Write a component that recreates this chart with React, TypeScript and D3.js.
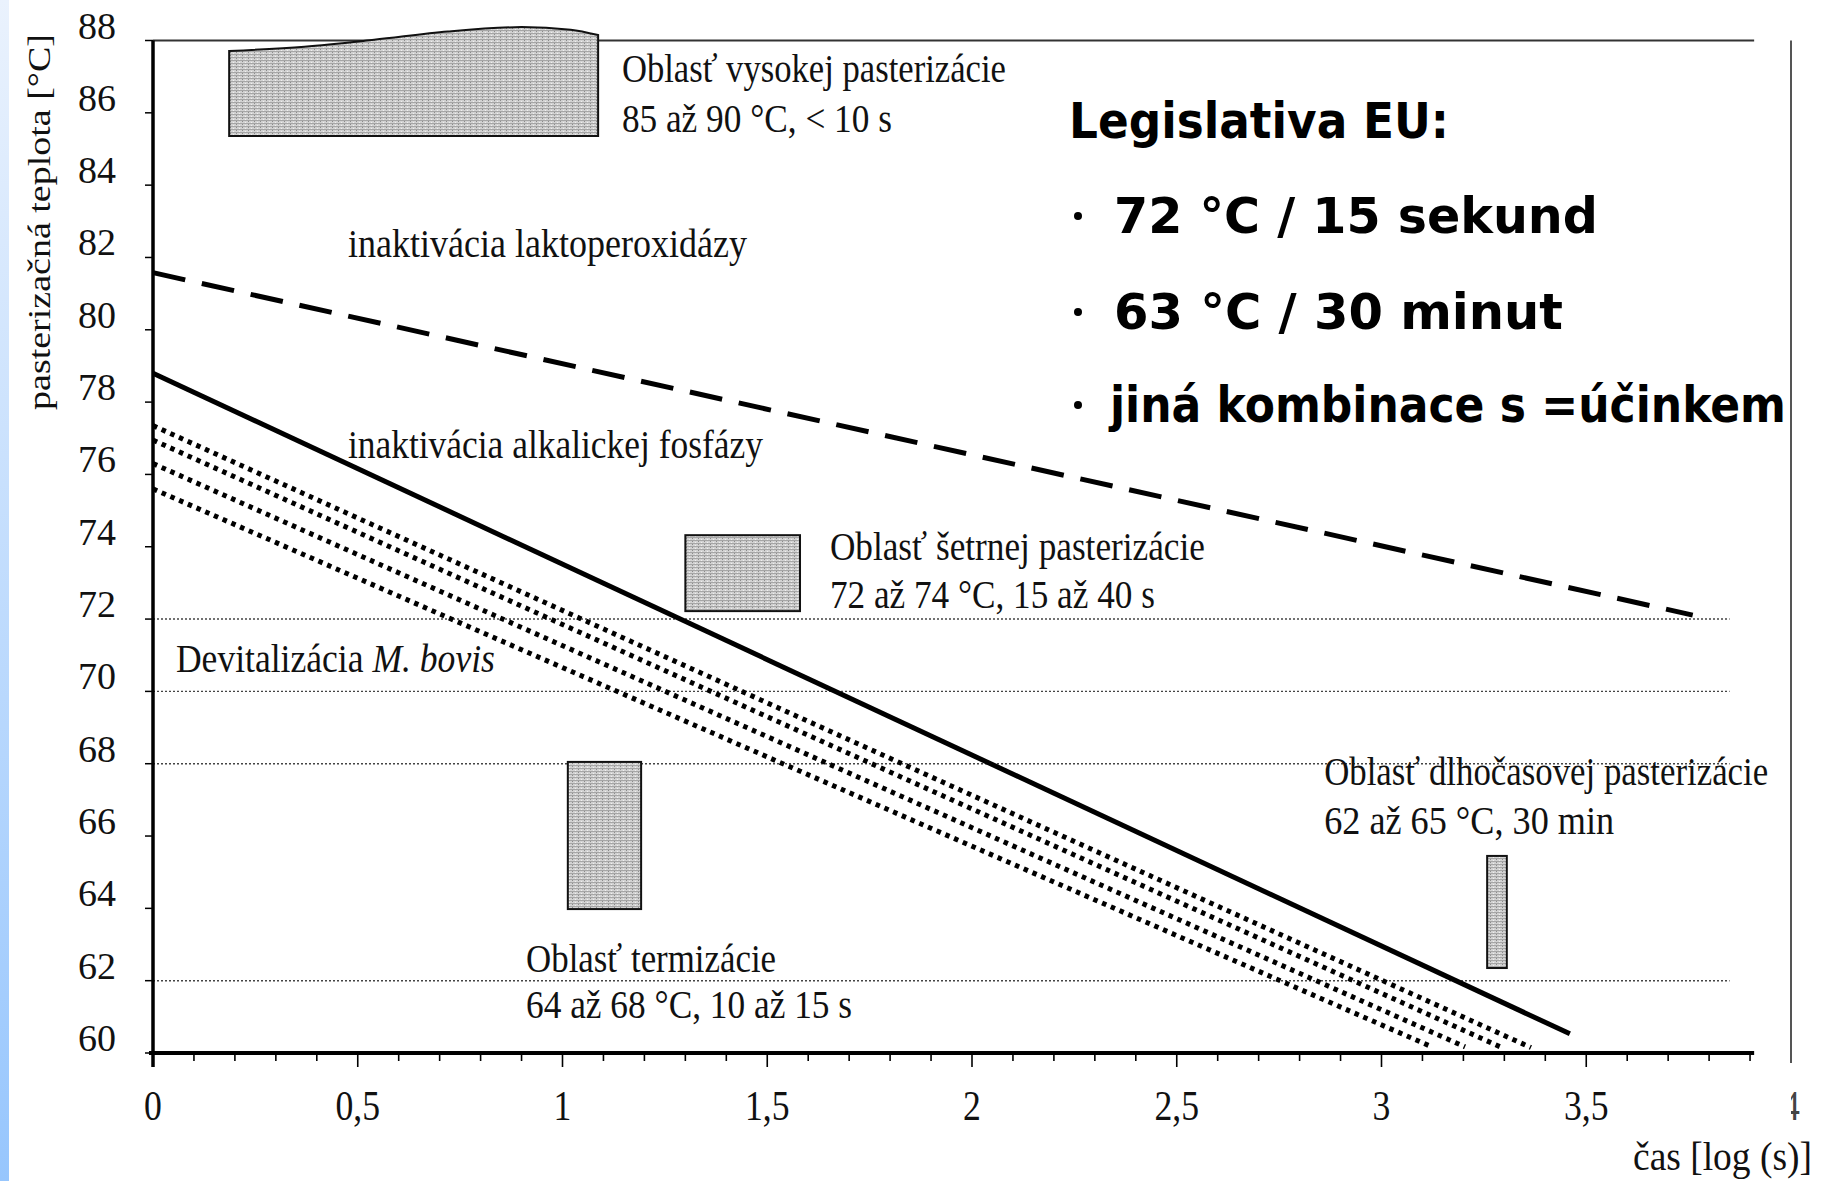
import React from "react";
import * as d3 from "d3";

const W = 1829;
const H = 1181;

// y axis: pasteurization temperature [°C]
const yTickValues = [60, 62, 64, 66, 68, 70, 72, 74, 76, 78, 80, 82, 84, 86, 88];
// x axis: time [log (s)]
const xTickValues = [0, 0.5, 1, 1.5, 2, 2.5, 3, 3.5, 4];
const xTickLabels = ["0", "0,5", "1", "1,5", "2", "2,5", "3", "3,5", "4"];
const gridTemps = [72, 70, 68, 62];

// lines [log s, °C]
const laktoperoxidaza: [number, number][] = [[0, 81.58], [3.76, 72.11]];
const fosfataza: [number, number][] = [[0, 78.8], [3.46, 60.53]];
const bovis: [number, number][][] = [
  [[0, 77.35], [3.365, 60.15]],
  [[0, 76.95], [3.294, 60.15]],
  [[0, 76.3], [3.204, 60.17]],
  [[0, 75.6], [3.123, 60.17]],
];

// shaded regions
const vysokaBottom = 85.36;
const vysokaTop: [number, number][] = [
  [0.186, 87.71], [0.37, 87.83], [0.54, 88.02], [0.72, 88.25],
  [0.9, 88.37], [1.02, 88.3], [1.087, 88.15],
];
const boxes = [
  { name: "setrna", x0: 1.3, x1: 1.58, t0: 72.22, t1: 74.32 },
  { name: "termizacia", x0: 1.013, x1: 1.192, t0: 63.98, t1: 68.05 },
  { name: "dlhocasova", x0: 3.258, x1: 3.306, t0: 62.35, t1: 65.45 },
];

// annotations [log s, °C baseline]
const notes = [
  { text: "Oblasť vysokej pasterizácie", at: [1.145, 86.85], len: 384 },
  { text: "85 až 90 °C, < 10 s", at: [1.145, 85.47], len: 270 },
  { text: "inaktivácia laktoperoxidázy", at: [0.476, 82.01], len: 399 },
  { text: "inaktivácia alkalickej fosfázy", at: [0.476, 76.46], len: 415 },
  { text: "Oblasť šetrnej pasterizácie", at: [1.653, 73.63], len: 375 },
  { text: "72 až 74 °C, 15 až 40 s", at: [1.653, 72.31], len: 325 },
  { text: "Oblasť dlhočasovej pasterizácie", at: [2.86, 67.41], len: 444 },
  { text: "62 až 65 °C, 30 min", at: [2.86, 66.06], len: 290 },
  { text: "Oblasť termizácie", at: [0.911, 62.24], len: 250 },
  { text: "64 až 68 °C, 10 až 15 s", at: [0.911, 60.97], len: 326 },
];

const legislativa = [
  { text: "Legislativa EU:", bullet: false, y: 138, x: 1069, len: 380 },
  { text: "72 °C / 15 sekund", bullet: true, y: 233, x: 1114, len: 484 },
  { text: "63 °C / 30 minut", bullet: true, y: 329, x: 1114, len: 449 },
  { text: "jiná kombinace s =účinkem", bullet: true, y: 422, x: 1110, len: 676 },
];

const serif = "'Liberation Serif', 'DejaVu Serif', serif";

export default function App() {
  const x = d3.scaleLinear().domain([0, 4]).range([153, 1791]);
  const y = d3.scaleLinear().domain([60, 88]).range([1053, 40.5]);
  const line = d3.line<[number, number]>().x((d) => x(d[0])).y((d) => y(d[1]));
  const topCurve = d3
    .line<[number, number]>()
    .x((d) => x(d[0]))
    .y((d) => y(d[1]))
    .curve(d3.curveMonotoneX);

  const vysokaPath =
    topCurve(vysokaTop) +
    `L${x(vysokaTop[vysokaTop.length - 1][0])},${y(vysokaBottom)}` +
    `L${x(vysokaTop[0][0])},${y(vysokaBottom)}Z`;

  const minorTicks = d3.range(1, 40).map((i) => i / 10);

  return (
    <svg
      width={W}
      height={H}
      viewBox={`0 0 ${W} ${H}`}
      style={{ position: "absolute", left: 0, top: 0, background: "#fff" }}
    >
      <defs>
        <linearGradient id="strip" x1="0" y1="0" x2="0" y2="1">
          <stop offset="0" stopColor="#eaf2fd" />
          <stop offset="1" stopColor="#97c6fd" />
        </linearGradient>
        <pattern id="stip" width="6" height="3" patternUnits="userSpaceOnUse">
          <rect width="6" height="3" fill="#d2d2d2" />
          <rect width="6" height="1" fill="#a6a6a6" />
          <rect x="2" y="1" width="1" height="1" fill="#8c8c8c" />
          <rect x="5" y="2" width="1" height="1" fill="#f0f0f0" />
        </pattern>
        <clipPath id="clip4">
          <rect x={1791} y={1060} width={38} height={80} />
        </clipPath>
      </defs>

      <rect x={0} y={0} width={9} height={H} fill="url(#strip)" />

      {/* frame */}
      <line x1={x(0)} x2={x(3.91)} y1={y(88)} y2={y(88)} stroke="#333" strokeWidth={2} />
      <line x1={x(4)} x2={x(4)} y1={y(88)} y2={1063} stroke="#555" strokeWidth={2} />

      {/* grid */}
      {gridTemps.map((t) => (
        <line
          key={t}
          x1={x(0)}
          x2={x(3.85)}
          y1={y(t)}
          y2={y(t)}
          stroke="#444"
          strokeWidth={1.4}
          strokeDasharray="2 2"
        />
      ))}

      {/* shaded regions */}
      <path d={vysokaPath} fill="url(#stip)" stroke="#111" strokeWidth={2} />
      {boxes.map((b) => (
        <rect
          key={b.name}
          x={x(b.x0)}
          y={y(b.t1)}
          width={x(b.x1) - x(b.x0)}
          height={y(b.t0) - y(b.t1)}
          fill="url(#stip)"
          stroke="#111"
          strokeWidth={2}
        />
      ))}

      {/* lines */}
      <path d={line(laktoperoxidaza) || ""} fill="none" stroke="#000" strokeWidth={5} strokeDasharray="33 17" />
      <path d={line(fosfataza) || ""} fill="none" stroke="#000" strokeWidth={5} />
      {bovis.map((b, i) => (
        <path key={i} d={line(b) || ""} fill="none" stroke="#000" strokeWidth={5} strokeDasharray="4.5 5" />
      ))}

      {/* axes */}
      <line x1={x(0)} x2={x(0)} y1={y(88)} y2={1067} stroke="#000" strokeWidth={3.5} />
      {yTickValues.map((t) => (
        <line key={t} x1={x(0) - 8} x2={x(0)} y1={y(t)} y2={y(t)} stroke="#000" strokeWidth={1.5} />
      ))}
      <line x1={x(0) - 4} x2={x(3.91)} y1={y(60)} y2={y(60)} stroke="#000" strokeWidth={4} />
      {minorTicks.map((v) => (
        <line
          key={v}
          x1={x(v)}
          x2={x(v)}
          y1={y(60)}
          y2={y(60) + (Math.abs(v * 2 - Math.round(v * 2)) < 1e-6 ? 14 : 8)}
          stroke="#000"
          strokeWidth={1.6}
        />
      ))}

      {yTickValues.map((t) => (
        <text key={t} x={116} y={y(t) - 2} textAnchor="end" fontFamily={serif} fontSize={38} fill="#111">
          {t}
        </text>
      ))}
      {xTickValues.slice(0, -1).map((v, i) => (
        <text
          key={v}
          transform={`translate(${x(v)},1120) scale(0.85,1)`}
          textAnchor="middle"
          fontFamily={serif}
          fontSize={42}
          fill="#111"
        >
          {xTickLabels[i]}
        </text>
      ))}
      <g clipPath="url(#clip4)">
        <text
          transform={`translate(${x(4)},1120) scale(0.85,1)`}
          textAnchor="middle"
          fontFamily={serif}
          fontSize={42}
          fill="#444"
        >
          {xTickLabels[xTickLabels.length - 1]}
        </text>
      </g>

      <text
        transform="translate(50,222) rotate(-90)"
        textAnchor="middle"
        fontFamily={serif}
        fontSize={32}
        fill="#111"
        textLength={376}
        lengthAdjust="spacingAndGlyphs"
      >
        pasterizačná teplota [°C]
      </text>
      <text
        x={1633}
        y={1170}
        fontFamily={serif}
        fontSize={40}
        fill="#111"
        textLength={179}
        lengthAdjust="spacingAndGlyphs"
      >
        čas [log (s)]
      </text>

      {/* annotations */}
      {notes.map((n) => (
        <text
          key={n.text}
          x={x(n.at[0])}
          y={y(n.at[1])}
          fontFamily={serif}
          fontSize={41}
          fill="#111"
          textLength={n.len}
          lengthAdjust="spacingAndGlyphs"
        >
          {n.text}
        </text>
      ))}
      <text
        x={x(0.056)}
        y={y(70.54)}
        fontFamily={serif}
        fontSize={41}
        fill="#111"
        textLength={319}
        lengthAdjust="spacingAndGlyphs"
      >
        Devitalizácia <tspan fontStyle="italic">M. bovis</tspan>
      </text>

      {/* EU legislation */}
      {legislativa.map((l) => (
        <g key={l.text}>
          {l.bullet && <circle cx={1078} cy={l.y - 17} r={4} fill="#000" />}
          <text
            x={l.x}
            y={l.y}
            fontFamily="'DejaVu Sans', sans-serif"
            fontWeight="bold"
            fontSize={50}
            fill="#000"
            textLength={l.len}
            lengthAdjust="spacingAndGlyphs"
          >
            {l.text}
          </text>
        </g>
      ))}
    </svg>
  );
}
